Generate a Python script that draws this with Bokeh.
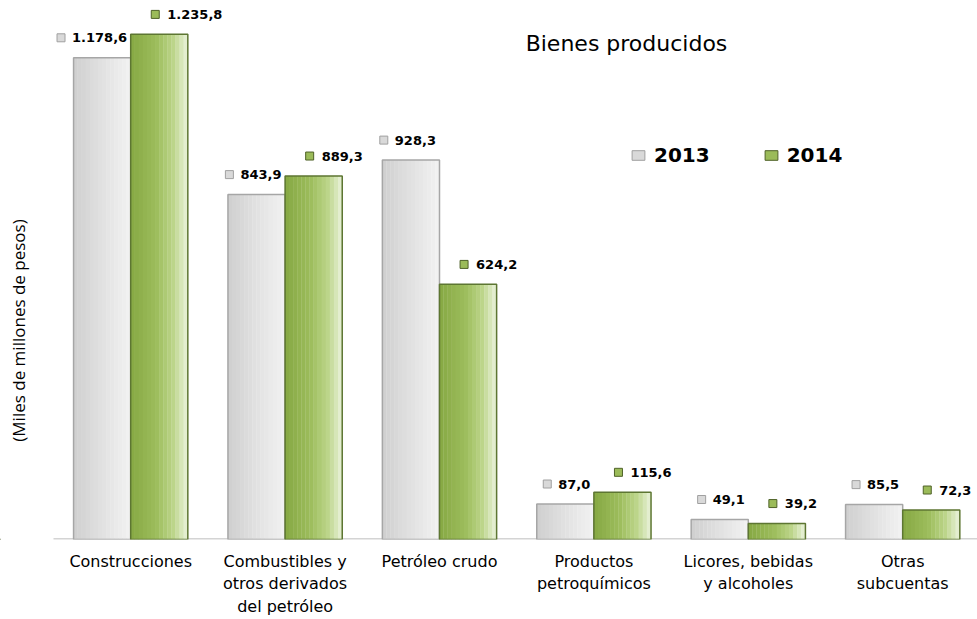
import math
from bokeh.plotting import figure
from bokeh.models import Range1d, FixedTicker, Label, Legend, LegendItem
from bokeh.embed import file_html
from bokeh.resources import INLINE
from bokeh.core.properties import value

# ---------------- data ----------------
categories = ["Construcciones",
              "Combustibles y\notros derivados\ndel petróleo",
              "Petróleo crudo",
              "Productos\npetroquímicos",
              "Licores, bebidas\ny alcoholes",
              "Otras\nsubcuentas"]
v2013 = [1178.6, 843.9, 928.3, 87.0, 49.1, 85.5]
v2014 = [1235.8, 889.3, 624.2, 115.6, 39.2, 72.3]
series_names = ["2013", "2014"]
title_text = "Bienes producidos"
y_label = "(Miles de millones de pesos)"

# ---------------- geometry ----------------
W, H = 977, 619
MB = 78
FW, FH = W, H - MB
PX = 154.4                     # px per category
PY = 0.4103                    # px per unit
X0 = -0.5 - 53 / PX
X1 = X0 + FW / PX
Y0, Y1 = 0, FH / PY
BW = 0.37

def fmt(v):
    s = f"{v:,.1f}"
    return s.replace(",", "X").replace(".", ",").replace("X", ".")

def hexlerp(stops, t):
    for (t0, c0), (t1, c1) in zip(stops[:-1], stops[1:]):
        if t0 <= t <= t1:
            f = (t - t0) / (t1 - t0) if t1 > t0 else 0
            a = [int(c0[i:i+2], 16) for i in (1, 3, 5)]
            b = [int(c1[i:i+2], 16) for i in (1, 3, 5)]
            return "#%02x%02x%02x" % tuple(round(a[k] + (b[k] - a[k]) * f) for k in range(3))
    return stops[-1][1]

p = figure(width=W, height=H, output_backend="svg", toolbar_location=None,
           x_range=Range1d(X0, X1), y_range=Range1d(Y0, Y1),
           min_border_left=0, min_border_right=0, min_border_top=0, min_border_bottom=MB,
           background_fill_color="white", border_fill_color="white")
p.outline_line_color = None
p.grid.visible = False
p.yaxis.visible = False

xs = list(range(len(categories)))
p.xaxis.ticker = FixedTicker(ticks=xs)
p.xaxis.major_label_overrides = {i: c for i, c in enumerate(categories)}
p.xaxis.major_tick_line_color = None
p.xaxis.minor_tick_line_color = None
p.xaxis.axis_line_color = None
p.xaxis.major_label_text_font = "DejaVu Sans"
p.xaxis.major_label_text_font_size = "16px"
p.xaxis.major_label_text_color = "black"
p.xaxis.major_label_standoff = 6

# baseline (category axis line) from the first group to the right edge
p.segment(x0=[-0.5], y0=[0], x1=[X1], y1=[0], line_color="#d4d4d4", line_width=3)

styles = {
    "2013": dict(stops=[(0, "#cfcfcf"), (0.5, "#e1e1e1"), (1, "#f2f2f2")], line="#a6a6a6",
                 mark="#d9d9d9", markline="#a0a0a0"),
    "2014": dict(stops=[(0, "#86a843"), (0.45, "#9dbd5c"), (0.75, "#bcd58a"), (1, "#eaf2da")],
                 line="#5d7632", mark="#9bbb59", markline="#4f6228"),
}

N = 14
legend_items = []
for name, vals, off in [("2013", v2013, -BW / 2), ("2014", v2014, BW / 2)]:
    st = styles[name]
    cx = [x + off for x in xs]
    for j in range(N):
        dx = -BW / 2 + (j + 0.5) * BW / N
        p.vbar(x=[c + dx for c in cx], top=vals, bottom=0, width=BW / N * 1.08,
               fill_color=hexlerp(st["stops"], (j + 0.5) / N), line_color=None)
    p.vbar(x=cx, top=vals, bottom=0, width=BW, fill_color=None,
           line_color=st["line"], line_width=1.5)
    dummy = p.vbar(x=[X0 - 5], top=[1], width=0.1, fill_color=st["mark"], line_color=st["markline"])
    legend_items.append(LegendItem(label=name, renderers=[dummy]))

    # data labels
    labels = [fmt(v) for v in vals]
    ly = [v + 20 / PY for v in vals]
    if name == "2014":
        tx = [c + 8 / PX for c in cx]
        mx = [c - 4 / PX for c in cx]
        p.text(x=tx, y=ly, text=labels, text_font=value("DejaVu Sans"), text_font_style="bold",
               text_font_size="13px", text_align="left", text_baseline="middle", text_color="black")
    else:
        tx = [c + 25 / PX for c in cx]
        widths = [sum((0.696 if ch.isdigit() else 0.38) for ch in s) * 13 for s in labels]
        mx = [t - (w + 11) / PX for t, w in zip(tx, widths)]
        p.text(x=tx, y=ly, text=labels, text_font=value("DejaVu Sans"), text_font_style="bold",
               text_font_size="13px", text_align="right", text_baseline="middle", text_color="black")
    p.scatter(x=mx, y=ly, marker="square", size=8, fill_color=st["mark"], line_color=st["markline"])

legend = Legend(items=legend_items, orientation="horizontal", location=(630, FH - 169),
                glyph_width=16, glyph_height=12, label_standoff=8, spacing=53,
                padding=0, margin=0, border_line_color=None, background_fill_alpha=0,
                label_text_font="DejaVu Sans", label_text_font_style="bold",
                label_text_font_size="20px", label_text_color="black")
p.add_layout(legend)

p.add_layout(Label(x=626, y=FH - 45, x_units="screen", y_units="screen", text=title_text,
                   text_font="DejaVu Sans", text_font_size="22px", text_align="center",
                   text_baseline="middle", text_color="black"))
p.add_layout(Label(x=18, y=FH - 332, x_units="screen", y_units="screen", text=y_label,
                   angle=math.pi / 2, text_font="Open Sans", text_font_size="17px",
                   text_align="center", text_baseline="middle", text_color="black"))

open("out.html", "w").write(file_html(p, INLINE))
